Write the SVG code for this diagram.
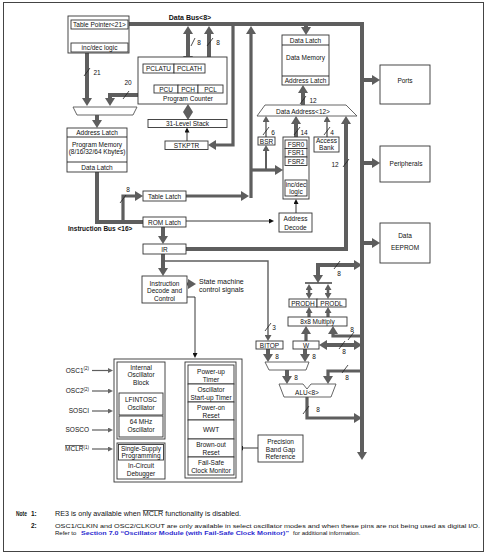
<svg xmlns="http://www.w3.org/2000/svg" width="489" height="557" viewBox="0 0 489 557">
<style>
text{font-family:"Liberation Sans",Arial,sans-serif;font-size:6.5px;fill:#111;text-anchor:middle}
.l{text-anchor:start}
.r{text-anchor:end}
.b{font-weight:bold}
.n{font-size:6px}
.bx{fill:#fff;stroke:#333;stroke-width:0.9}
.gb{fill:#fff;stroke:#555;stroke-width:0.9}
.bus{fill:none;stroke:#5e5e5e;stroke-width:4}
.med{fill:none;stroke:#5e5e5e;stroke-width:3.2}
.thin{fill:none;stroke:#5e5e5e;stroke-width:1.4}
.tk{fill:none;stroke:#222;stroke-width:0.9}
.sl{fill:none;stroke:#222;stroke-width:0.8}
.ah{marker-end:url(#ah)}
.ah2{marker-start:url(#ah);marker-end:url(#ah)}
.am{marker-end:url(#am)}
.am2{marker-start:url(#am);marker-end:url(#am)}
.at{marker-end:url(#at)}
.at2{marker-start:url(#at);marker-end:url(#at)}
.ag{marker-end:url(#ag)}
</style>
<defs>
<marker id="ah" markerUnits="userSpaceOnUse" viewBox="0 -5 8 10" markerWidth="8" markerHeight="10" refX="1" refY="0" orient="auto-start-reverse"><path d="M0,-5 L8,0 L0,5z" fill="#5e5e5e"/></marker>
<marker id="am" markerUnits="userSpaceOnUse" viewBox="0 -3.5 6 7" markerWidth="6" markerHeight="7" refX="1" refY="0" orient="auto-start-reverse"><path d="M0,-3.5 L6,0 L0,3.5z" fill="#5e5e5e"/></marker>
<marker id="at" markerUnits="userSpaceOnUse" viewBox="0 -2.5 5 5" markerWidth="5" markerHeight="5" refX="1" refY="0" orient="auto-start-reverse"><path d="M0,-2.5 L5,0 L0,2.5z" fill="#111"/></marker>
<marker id="ag" markerUnits="userSpaceOnUse" viewBox="0 -2.5 5 5" markerWidth="5" markerHeight="5" refX="1" refY="0" orient="auto-start-reverse"><path d="M0,-2.5 L5,0 L0,2.5z" fill="#666"/></marker>
</defs>
<rect x="0" y="0" width="489" height="557" fill="#fff"/>
<rect x="3.5" y="2.5" width="480" height="549" fill="none" stroke="#444" stroke-width="1"/>

<g id="connectors">
<path class="bus ah" d="M128,24 H362 V453"/>
<path class="bus ah2" d="M188,33 V57"/>
<path class="bus ah2" d="M209,33 V78"/>
<path class="bus ah" d="M306,24 V28"/>
<path class="med ah" d="M251,198 V33"/>
<path class="med ah" d="M186,196 H242"/>
<path class="med ah" d="M251,170 H276"/>
<path class="thin am" style="stroke-width:2" d="M266,170 V150"/>
<path class="med ah" d="M233,24 V145 H215"/>
<path class="bus ah" d="M87,53 V99"/>
<path class="bus ah" d="M138,95 H110 V99"/>
<path class="bus ah" d="M97,115 V121"/>
<path class="bus" d="M97,172 V222 H143"/>
<path class="med ah" d="M123,222 V196 H136"/>
<path class="bus ah" d="M163,227 V237"/>
<path class="bus ah" d="M186,249 H346 V123"/>
<path class="bus ah" d="M163,254 V269"/>
<path class="thin am" d="M163,261 H268 V336"/>
<path class="med ah" d="M187,284 H189"/>
<path class="tk at" d="M187,297 H195 V354"/>
<path class="tk at" d="M186,221 H270"/>
<path class="tk at" d="M296,213 V203"/>
<path class="tk at2" d="M100,34 V39"/>
<path class="tk at2" d="M188,78 V81"/>
<path class="tk at2" d="M296,170 V176"/>
<path class="tk at" d="M187,141 V131.5"/>
<path class="bus ah2" d="M188,111 V113"/>
<path class="thin am" d="M266,137 V121"/>
<path class="bus ah" d="M296,137 V123"/>
<path class="thin am" d="M327,137 V121"/>
<path class="bus ah" d="M303,105 V92"/>
<path class="bus ah" d="M362,80 H373"/>
<path class="bus ah" d="M362,163 H373"/>
<path class="bus ah" d="M362,243 H373"/>
<path class="bus ah2" d="M355,265 H318 V276"/>
<path class="tk" style="stroke-width:1.3" d="M305,283 H332"/>
<path class="med am2" style="stroke-width:2.6" d="M309,289 V294"/>
<path class="med am2" style="stroke-width:2.6" d="M328,289 V294"/>
<path class="med am" d="M309,317 V312"/>
<path class="med am" d="M328,317 V312"/>
<path class="med ah" d="M306,341 V333"/>
<path class="med ah" d="M362,336 H333 V333"/>
<path class="bus ah2" d="M326,345 H355"/>
<path class="bus ah" d="M268,349 V355"/>
<path class="bus ah" d="M305,349 V355"/>
<path class="bus ah" d="M287,370 V377"/>
<path class="med ah" d="M362,371 H328 V377"/>
<path class="med ah" d="M307,397 V418 H355"/>
<path class="tk at2" d="M169,393 H181"/>
<path class="tk at" d="M258,448 H242"/>
<path class="thin ag" style="stroke-width:1.2" d="M92,370.5 H109"/>
<path class="thin ag" style="stroke-width:1.2" d="M92,391 H109"/>
<path class="thin ag" style="stroke-width:1.2" d="M92,411 H109"/>
<path class="thin ag" style="stroke-width:1.2" d="M92,430 H109"/>
<path class="thin ag" style="stroke-width:1.2" d="M92,449 H109"/>
<path class="sl" d="M84,76 L90,68 M191,46 L195,38 M207,46 L213,38 M120,203 L126,195 M123,99 L129,91 M300,104 L306,96 M263,135 L269,127 M294,135 L300,127 M324,135 L330,127 M343,167 L349,159 M265,331 L271,323 M334,269 L340,261 M348,340 L354,332 M339,349 L345,341 M342,373 L348,365 M303,414 L309,406"/>
<text x="97" y="75">21</text>
<text x="128" y="84.5">20</text>
<text x="199" y="44.5">8</text>
<text x="218" y="44.5">8</text>
<text x="128" y="191.5">8</text>
<text x="313" y="102.5">12</text>
<text x="273" y="134.5">6</text>
<text x="304" y="134.5">14</text>
<text x="332" y="134.5">4</text>
<text x="335" y="166.5">12</text>
<text x="274" y="330">3</text>
<text x="339" y="276">8</text>
<text x="352" y="331.5">8</text>
<text x="344" y="354">8</text>
<text x="277" y="359">8</text>
<text x="314" y="359">8</text>
<text x="296" y="380">8</text>
<text x="347" y="380">8</text>
<text x="318" y="412">8</text>
<text class="b" x="190" y="19.5" style="font-size:7px">Data Bus&lt;8&gt;</text>
<text class="b l" x="68" y="231">Instruction Bus &lt;16&gt;</text>
<text class="l" x="199" y="283.5" style="font-size:7px">State machine</text>
<text class="l" x="199" y="291.5" style="font-size:7px">control signals</text>
</g>

<g id="table-pointer">
<rect class="bx" x="68" y="16" width="61" height="37"/>
<rect class="bx" x="71" y="20" width="57" height="9"/>
<text x="99.5" y="27">Table Pointer&lt;21&gt;</text>
<rect class="bx" x="71" y="43" width="57" height="9"/>
<text x="99.5" y="50">inc/dec logic</text>
</g>

<g id="program-counter">
<rect class="bx" x="138" y="57" width="89" height="47"/>
<rect class="bx" x="143" y="64" width="31" height="9"/>
<rect class="bx" x="174" y="64" width="31" height="9"/>
<text x="158.5" y="71">PCLATU</text>
<text x="189.5" y="71">PCLATH</text>
<rect class="bx" x="154" y="85" width="24" height="8"/>
<rect class="bx" x="178" y="85" width="20" height="8"/>
<rect class="bx" x="198" y="85" width="25" height="8"/>
<text x="166" y="91.5">PCU</text>
<text x="188" y="91.5">PCH</text>
<text x="210.5" y="91.5">PCL</text>
<text x="188" y="100.5">Program Counter</text>
</g>

<g id="stack">
<rect class="bx" x="148" y="119.5" width="79" height="8"/>
<text x="187.5" y="126">31-Level Stack</text>
</g>

<g id="stkptr">
<rect class="bx" x="165" y="141" width="43" height="8.5"/>
<text x="186.5" y="147.7">STKPTR</text>
</g>

<g id="pc-mux">
<polygon class="gb" points="73,107 137,107 133,115 77,115"/>
</g>

<g id="program-memory">
<rect class="bx" x="67" y="128" width="60" height="44"/>
<line class="tk" x1="67" y1="137" x2="127" y2="137"/>
<line class="tk" x1="67" y1="162" x2="127" y2="162"/>
<text x="97" y="135">Address Latch</text>
<text x="97" y="147">Program Memory</text>
<text x="97" y="154">(8/16/32/64 Kbytes)</text>
<text x="97" y="169.5">Data Latch</text>
</g>

<g id="table-latch">
<rect class="bx" x="143" y="191" width="43" height="10"/>
<text x="164.5" y="198.5">Table Latch</text>
</g>
<g id="rom-latch">
<rect class="bx" x="143" y="217" width="43" height="10"/>
<text x="164.5" y="224.5">ROM Latch</text>
</g>
<g id="ir">
<rect class="bx" x="143" y="244" width="43" height="10"/>
<text x="164.5" y="251.5">IR</text>
</g>

<g id="instruction-decode">
<rect class="bx" x="142" y="276" width="45" height="27"/>
<text x="164.5" y="285.5">Instruction</text>
<text x="164.5" y="293.3">Decode and</text>
<text x="164.5" y="301">Control</text>
</g>

<g id="data-memory">
<rect class="bx" x="282" y="35" width="47" height="50"/>
<line class="tk" x1="282" y1="45" x2="329" y2="45"/>
<line class="tk" x1="282" y1="76" x2="329" y2="76"/>
<text x="305.5" y="42.5">Data Latch</text>
<text x="305.5" y="59.5">Data Memory</text>
<text x="305.5" y="83">Address Latch</text>
</g>

<g id="data-address">
<polygon class="gb" points="265,105 346,105 357,116 257,116"/>
<text x="303" y="113.5">Data Address&lt;12&gt;</text>
</g>

<g id="bsr">
<rect class="bx" x="258" y="137" width="17" height="8"/>
<text x="266.5" y="143.5">BSR</text>
</g>

<g id="fsr">
<rect class="bx" x="283" y="137" width="26" height="62"/>
<rect class="bx" x="285" y="140" width="22" height="8.5"/>
<rect class="bx" x="285" y="148.5" width="22" height="8.5"/>
<rect class="bx" x="285" y="157" width="22" height="8.5"/>
<text x="296" y="146.8">FSR0</text>
<text x="296" y="155.3">FSR1</text>
<text x="296" y="163.8">FSR2</text>
<rect class="bx" x="285" y="180" width="22" height="16"/>
<text x="296" y="187">inc/dec</text>
<text x="296" y="194.3">logic</text>
</g>

<g id="access-bank">
<rect class="bx" x="314" y="137" width="25" height="15"/>
<text x="326.5" y="143">Access</text>
<text x="326.5" y="150">Bank</text>
</g>

<g id="address-decode">
<rect class="bx" x="279" y="213" width="33" height="19"/>
<text x="295.5" y="221">Address</text>
<text x="295.5" y="229.5">Decode</text>
</g>

<g id="ports">
<rect class="bx" x="380" y="65" width="50" height="39"/>
<text x="405" y="82.5">Ports</text>
</g>
<g id="peripherals">
<rect class="bx" x="380" y="146" width="50" height="36"/>
<text x="406" y="165.5">Peripherals</text>
</g>
<g id="data-eeprom">
<rect class="bx" x="380" y="223" width="50" height="40"/>
<text x="405" y="238">Data</text>
<text x="405" y="249.5">EEPROM</text>
</g>

<g id="prod">
<rect class="bx" x="289" y="299" width="28" height="8"/>
<rect class="bx" x="317" y="299" width="29" height="8"/>
<text x="303" y="305.5">PRODH</text>
<text x="331.5" y="305.5">PRODL</text>
</g>
<g id="multiply">
<rect class="bx" x="288" y="317" width="59" height="9"/>
<text x="317.5" y="324">8x8 Multiply</text>
</g>
<g id="w">
<rect class="bx" x="293" y="341" width="26" height="8"/>
<text x="306" y="347.5">W</text>
</g>
<g id="bitop">
<rect class="bx" x="256" y="341" width="27" height="8"/>
<text x="269.5" y="347.5">BITOP</text>
</g>
<g id="alu-mux">
<polygon class="gb" points="265,362 309,362 306,370 269,370"/>
</g>
<g id="alu">
<polygon class="gb" points="279,384 303,384 307,389 311,384 336,384 331,397 284,397"/>
<text x="307" y="394.5">ALU&lt;8&gt;</text>
</g>

<g id="band-gap">
<rect class="bx" x="258" y="435" width="45" height="27"/>
<text x="280.5" y="444">Precision</text>
<text x="280.5" y="451.5">Band Gap</text>
<text x="280.5" y="459">Reference</text>
</g>

<g id="clock-reset-block">
<rect class="bx" x="114" y="359" width="128" height="123"/>
<rect class="bx" x="117" y="362" width="48" height="77"/>
<text x="141" y="369.5">Internal</text>
<text x="141" y="377">Oscillator</text>
<text x="141" y="384.5">Block</text>
<rect class="bx" x="119" y="393" width="44" height="22"/>
<text x="141" y="401.5">LFINTOSC</text>
<text x="141" y="409.5">Oscillator</text>
<rect class="bx" x="119" y="416" width="44" height="21"/>
<text x="141" y="423.5">64 MHz</text>
<text x="141" y="431.5">Oscillator</text>
<rect class="bx" x="117" y="443" width="48" height="36"/>
<rect class="bx" x="118.5" y="444.5" width="45" height="15.5"/>
<text x="141" y="450.5">Single-Supply</text>
<text x="141" y="458.3">Programming</text>
<text x="141" y="467.5">In-Circuit</text>
<text x="141" y="475.5">Debugger</text>
<rect class="bx" x="185" y="362" width="51" height="116"/>
<rect class="bx" x="188" y="365" width="46" height="19"/>
<rect class="bx" x="188" y="384" width="46" height="18"/>
<rect class="bx" x="188" y="402" width="46" height="18"/>
<rect class="bx" x="188" y="420" width="46" height="19"/>
<rect class="bx" x="188" y="439" width="46" height="18"/>
<rect class="bx" x="188" y="457" width="46" height="18"/>
<text x="211" y="373.5">Power-up</text>
<text x="211" y="381.5">Timer</text>
<text x="211" y="391.5">Oscillator</text>
<text x="211" y="399.5">Start-up Timer</text>
<text x="211" y="410">Power-on</text>
<text x="211" y="418">Reset</text>
<text x="211" y="432">WWT</text>
<text x="211" y="447">Brown-out</text>
<text x="211" y="455">Reset</text>
<text x="211" y="464.5">Fail-Safe</text>
<text x="211" y="472.5">Clock Monitor</text>
</g>

<g id="inputs">
<text class="r" x="89" y="372.5">OSC1<tspan dy="-2.2" style="font-size:4.5px">(2)</tspan></text>
<text class="r" x="89" y="393">OSC2<tspan dy="-2.2" style="font-size:4.5px">(2)</tspan></text>
<text class="r" x="89" y="413">SOSCI</text>
<text class="r" x="89" y="432">SOSCO</text>
<text class="r" x="89" y="451"><tspan text-decoration="overline">MCLR</tspan><tspan dy="-2.2" style="font-size:4.5px">(1)</tspan></text>
</g>

<g id="notes">
<text class="l b" x="16" y="516" textLength="11" lengthAdjust="spacingAndGlyphs">Note</text>
<text class="l b" x="31" y="516">1:</text>
<text class="l" x="55" y="516" textLength="186" lengthAdjust="spacingAndGlyphs">RE3 is only available when <tspan text-decoration="overline">MCLR</tspan> functionality is disabled.</text>
<text class="l b" x="31" y="527.5">2:</text>
<text class="l n" x="55" y="527.5" textLength="425" lengthAdjust="spacingAndGlyphs">OSC1/CLKIN and OSC2/CLKOUT are only available in select oscillator modes and when these pins are not being used as digital I/O.</text>
<text class="l n" x="55" y="535">Refer to</text>
<text class="l b n" x="81" y="535" style="fill:#2b2bd0" textLength="208" lengthAdjust="spacingAndGlyphs">Section 7.0 “Oscillator Module (with Fail-Safe Clock Monitor)”</text>
<text class="l n" x="293" y="535">for additional information.</text>
</g>
</svg>
